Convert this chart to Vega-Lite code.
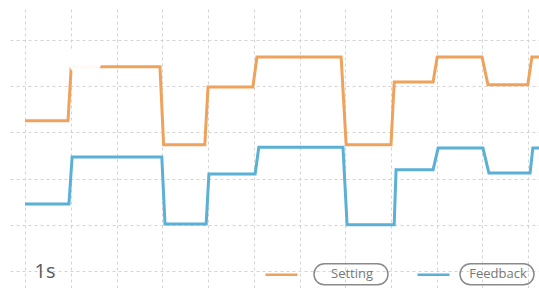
{
  "$schema": "https://vega.github.io/schema/vega-lite/v6.json",
  "width": 529,
  "height": 279,
  "autosize": {"type": "none"},
  "padding": {"left": 10, "top": 9, "right": 0, "bottom": 0},
  "background": "#ffffff",
  "config": {
    "view": {"fill": "#f2f2f2", "stroke": null},
    "font": "Open Sans"
  },
  "datasets": {
    "lines": [
      {"t": 0.0, "v": 3.25, "series": "Setting"},
      {"t": 0.94, "v": 3.25, "series": "Setting"},
      {"t": 1.01, "v": 4.42, "series": "Setting"},
      {"t": 2.95, "v": 4.42, "series": "Setting"},
      {"t": 3.03, "v": 2.73, "series": "Setting"},
      {"t": 3.93, "v": 2.73, "series": "Setting"},
      {"t": 4.0, "v": 3.98, "series": "Setting"},
      {"t": 4.98, "v": 3.98, "series": "Setting"},
      {"t": 5.07, "v": 4.63, "series": "Setting"},
      {"t": 6.91, "v": 4.63, "series": "Setting"},
      {"t": 7.02, "v": 2.73, "series": "Setting"},
      {"t": 8.0, "v": 2.73, "series": "Setting"},
      {"t": 8.07, "v": 4.09, "series": "Setting"},
      {"t": 8.92, "v": 4.09, "series": "Setting"},
      {"t": 9.01, "v": 4.63, "series": "Setting"},
      {"t": 9.99, "v": 4.63, "series": "Setting"},
      {"t": 10.12, "v": 4.03, "series": "Setting"},
      {"t": 10.99, "v": 4.03, "series": "Setting"},
      {"t": 11.08, "v": 4.63, "series": "Setting"},
      {"t": 11.3, "v": 4.63, "series": "Setting"},
      {"t": 0.0, "v": 1.45, "series": "Feedback"},
      {"t": 0.96, "v": 1.45, "series": "Feedback"},
      {"t": 1.03, "v": 2.47, "series": "Feedback"},
      {"t": 2.99, "v": 2.47, "series": "Feedback"},
      {"t": 3.06, "v": 1.02, "series": "Feedback"},
      {"t": 3.96, "v": 1.02, "series": "Feedback"},
      {"t": 4.02, "v": 2.1, "series": "Feedback"},
      {"t": 5.03, "v": 2.1, "series": "Feedback"},
      {"t": 5.11, "v": 2.68, "series": "Feedback"},
      {"t": 6.95, "v": 2.68, "series": "Feedback"},
      {"t": 7.04, "v": 1.0, "series": "Feedback"},
      {"t": 8.07, "v": 1.0, "series": "Feedback"},
      {"t": 8.11, "v": 2.19, "series": "Feedback"},
      {"t": 8.92, "v": 2.19, "series": "Feedback"},
      {"t": 9.03, "v": 2.66, "series": "Feedback"},
      {"t": 10.01, "v": 2.66, "series": "Feedback"},
      {"t": 10.14, "v": 2.12, "series": "Feedback"},
      {"t": 11.04, "v": 2.12, "series": "Feedback"},
      {"t": 11.1, "v": 2.66, "series": "Feedback"},
      {"t": 11.3, "v": 2.66, "series": "Feedback"}
    ],
    "cursor": [{"t": 1.31, "v": 4.57}],
    "legendItems": [{"name": "Setting"}, {"name": "Feedback"}]
  },
  "layer": [
    {
      "data": {"name": "lines"},
      "mark": {"type": "line", "strokeWidth": 3, "clip": true},
      "encoding": {
        "x": {
          "field": "t", "type": "quantitative",
          "scale": {"domain": [-0.328, 11.235], "nice": false, "zero": false},
          "axis": {
            "values": [0,1,2,3,4,5,6,7,8,9,10,11],
            "grid": true, "gridDash": [3, 3], "gridColor": "#d4d4d4", "gridWidth": 1,
            "labels": false, "ticks": false, "domain": false,
            "title": "1s", "titleAnchor": "start", "titleAlign": "left",
            "titleX": 24, "titleY": -17, "titleBaseline": "middle",
            "titleFont": "Open Sans", "titleFontSize": 20, "titleFontWeight": "normal",
            "titleColor": "#5a5a5a"
          }
        },
        "y": {
          "field": "v", "type": "quantitative",
          "scale": {"domain": [-0.368, 5.671], "nice": false, "zero": false},
          "axis": {
            "values": [0,1,2,3,4,5],
            "grid": true, "gridDash": [3, 3], "gridColor": "#d4d4d4", "gridWidth": 1,
            "labels": false, "ticks": false, "domain": false, "title": null
          }
        },
        "color": {
          "field": "series", "type": "nominal",
          "scale": {"domain": ["Setting", "Feedback"], "range": ["#eea25c", "#5bb0d6"]},
          "legend": {
            "orient": "none", "legendX": 254, "legendY": 248,
            "direction": "horizontal", "title": null, "padding": 0,
            "symbolType": "stroke", "symbolSize": 1024, "symbolStrokeWidth": 2.5,
            "labelExpr": "''", "labelOffset": 0, "columnPadding": 109
          }
        }
      }
    },
    {
      "data": {"name": "cursor"},
      "mark": {"type": "point", "filled": true, "color": "#ffffff", "size": 1150, "opacity": 0.95},
      "encoding": {
        "x": {"field": "t", "type": "quantitative"},
        "y": {"field": "v", "type": "quantitative"}
      }
    },
    {
      "data": {"name": "legendItems"},
      "mark": {"type": "point", "filled": false, "color": "#8a8a8a", "opacity": 0},
      "encoding": {
        "shape": {
          "field": "name", "type": "nominal", "sort": null,
          "scale": {"range": ["M -0.716 -0.284 L 0.716 -0.284 A 0.284 0.284 0 0 1 0.716 0.284 L -0.716 0.284 A 0.284 0.284 0 0 1 -0.716 -0.284 Z"]},
          "legend": {
            "orient": "none", "legendX": 303, "legendY": 227,
            "direction": "horizontal", "title": null, "padding": 0,
            "symbolSize": 5476, "symbolStrokeColor": "#8a8a8a", "symbolFillColor": "transparent",
            "symbolStrokeWidth": 1.5, "symbolOpacity": 1,
            "labelAlign": "center", "labelOffset": -37, "labelFont": "Open Sans",
            "labelFontSize": 13, "labelColor": "#777777", "columnPadding": 66
          }
        }
      }
    }
  ]
}
